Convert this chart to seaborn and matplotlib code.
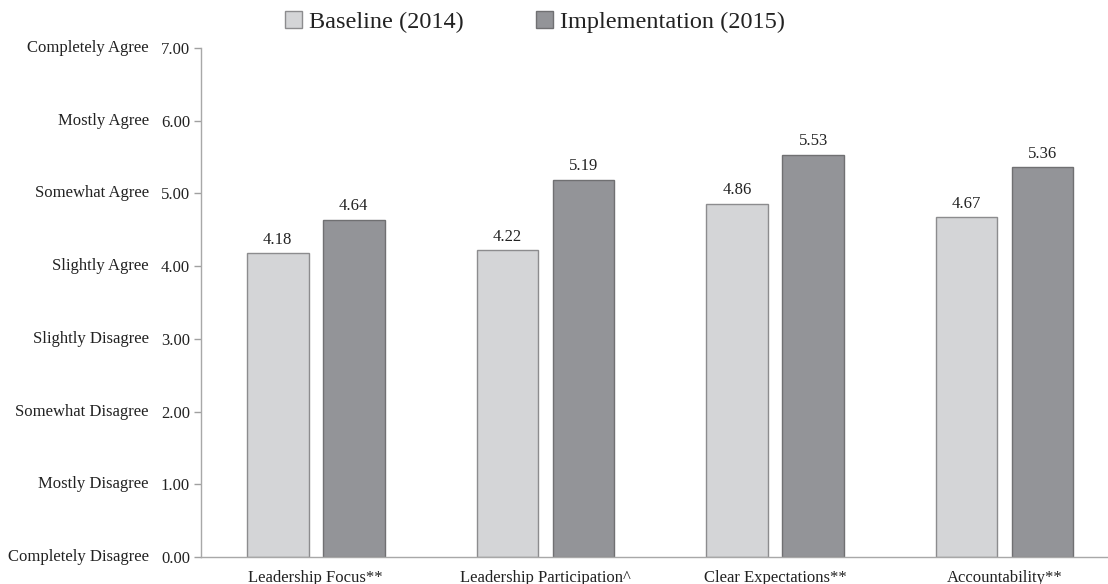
import matplotlib
matplotlib.use("Agg")
import matplotlib.pyplot as plt
import matplotlib.transforms as mtransforms
import seaborn as sns
import pandas as pd

categories = ["Leadership Focus**", "Leadership Participation^", "Clear Expectations**", "Accountability**"]
baseline = [4.18, 4.22, 4.86, 4.67]
implementation = [4.64, 5.19, 5.53, 5.36]
series_names = ["Baseline (2014)", "Implementation (2015)"]
y_ticks = [0, 1, 2, 3, 4, 5, 6, 7]
y_names = ["Completely Disagree", "Mostly Disagree", "Somewhat Disagree", "Slightly Disagree",
           "Slightly Agree", "Somewhat Agree", "Mostly Agree", "Completely Agree"]

df = pd.DataFrame({
    "category": categories * 2,
    "value": baseline + implementation,
    "series": [series_names[0]] * 4 + [series_names[1]] * 4,
})

sns.set_style("white")
plt.rcParams["font.family"] = ["Liberation Serif", "DejaVu Serif"]
text_color = "#222222"
fs = 12

fig = plt.figure(figsize=(11.08, 5.84), dpi=100)
ax = fig.add_axes([0.1814, 0.0462, 0.8176, 0.8716])

palette = {series_names[0]: "#d4d5d7", series_names[1]: "#939498"}
sns.barplot(data=df, x="category", y="value", hue="series", palette=palette,
            width=0.662, gap=0.19, ax=ax, legend=True, saturation=1)

edges = {0: "#8c8c8e", 1: "#707072"}
for i, cont in enumerate(ax.containers):
    for bar in cont:
        bar.set_edgecolor(edges[i])
        bar.set_linewidth(1.0)
    ax.bar_label(cont, labels=[f"{v:.2f}" for v in cont.datavalues], padding=4,
                 fontsize=fs, color=text_color)

ax.set_ylim(0, 7)
ax.set_xlim(-0.5, 3.445)
ax.set_yticks(y_ticks)
ax.set_yticklabels([f"{t:.2f}" for t in y_ticks], fontsize=fs, color=text_color)
ax.tick_params(axis="y", which="both", left=True, length=5, width=1, color="#a0a0a0", pad=3)
ax.tick_params(axis="x", bottom=False, labelsize=fs, labelcolor=text_color, pad=6)
ax.set_xlabel("")
ax.set_ylabel("")

for side in ["top", "right"]:
    ax.spines[side].set_visible(False)
for side in ["left", "bottom"]:
    ax.spines[side].set_color("#a8a8a8")
    ax.spines[side].set_linewidth(1.0)

trans = mtransforms.blended_transform_factory(ax.transAxes, ax.transData)
for t, name in zip(y_ticks, y_names):
    ax.text(-0.0574, t, name, transform=trans, ha="right", va="center",
            fontsize=fs, color=text_color)

handles, labels = ax.get_legend_handles_labels()
for h, i in zip(handles, range(2)):
    h.set_edgecolor(edges[i])
ax.legend(handles, labels, loc="center", bbox_to_anchor=(0.483, 0.962),
          bbox_transform=fig.transFigure, ncol=2, frameon=False, fontsize=17.5,
          handlelength=0.66, handleheight=0.66, handletextpad=0.3, columnspacing=3.0,
          labelcolor=text_color)

fig.savefig("out.png", dpi=100)
